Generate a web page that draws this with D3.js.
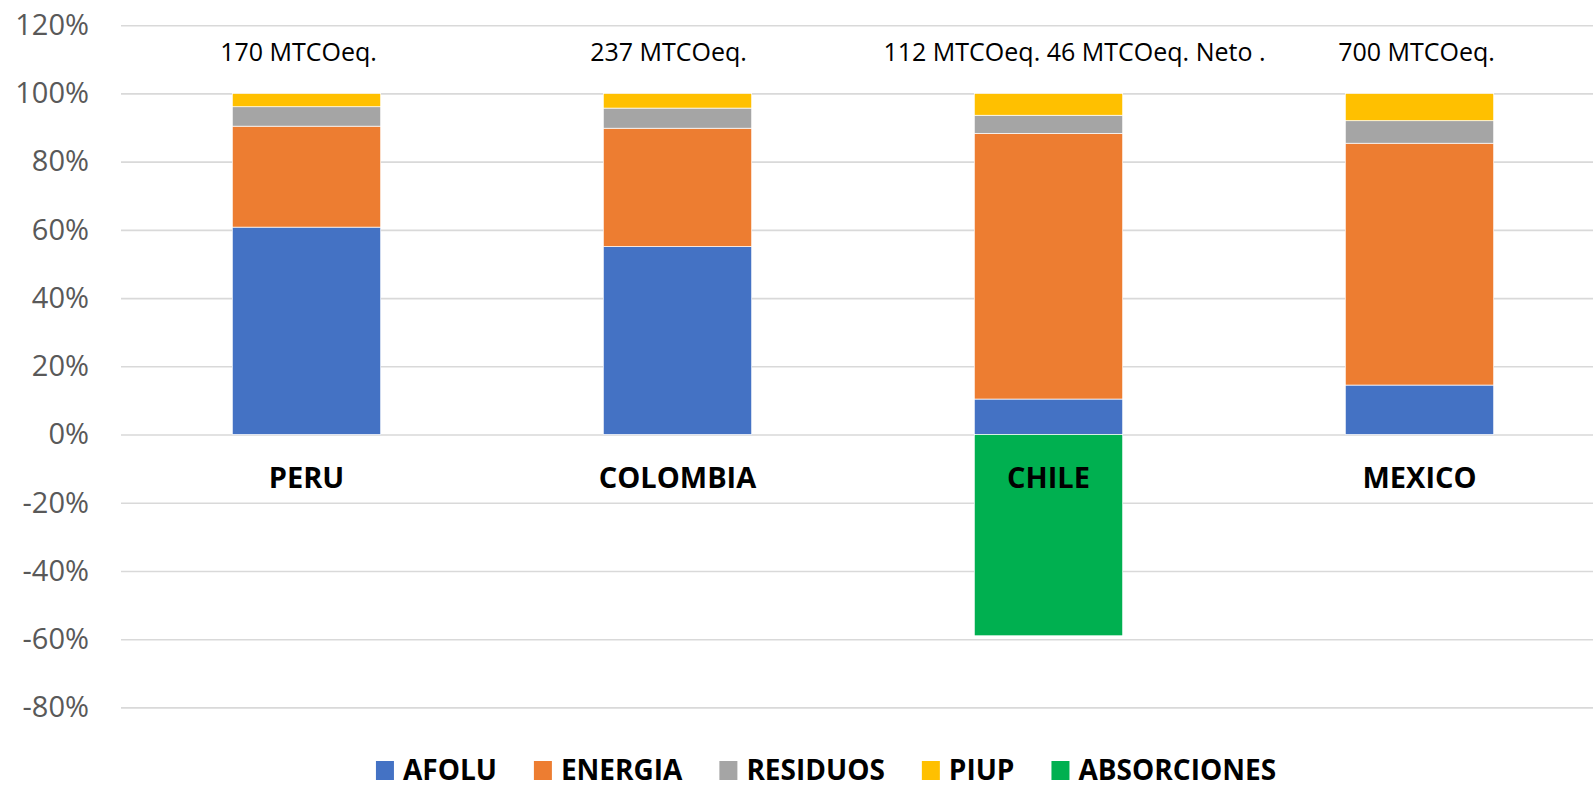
<!DOCTYPE html>
<html>
<head>
<meta charset="utf-8">
<script src="https://cdn.jsdelivr.net/npm/d3@7"></script>
<style>
  body { margin: 0; background: #fff; }
  svg { display: block; font-family: "Open Sans", "Noto Sans", sans-serif; }
  .tick-label { fill: #595959; font-size: 29px; }
  .cat-label { font-weight: bold; font-size: 29px; fill: #000; }
  .total-label { font-size: 25px; fill: #000; }
  .legend-label { font-weight: bold; font-size: 28px; fill: #000; }
</style>
</head>
<body>
<div class="chart"></div>
<script>
// chart values (percent of each country's total)
const countries = ["PERU", "COLOMBIA", "CHILE", "MEXICO"]
const afolu = [60.8, 55.1, 10.4, 14.5]
const energia = [29.6, 34.7, 77.9, 70.9]
const residuos = [5.7, 5.9, 5.3, 6.6]
const piup = [3.9, 4.3, 6.4, 8.0]
const absorciones = [0, 0, -59.0, 0]
const totals = ["170 MTCOeq.", "237 MTCOeq.", "112 MTCOeq. 46 MTCOeq. Neto .", "700 MTCOeq."]
const seriesNames = ["AFOLU", "ENERGIA", "RESIDUOS", "PIUP", "ABSORCIONES"]
const yTicks = [-80, -60, -40, -20, 0, 20, 40, 60, 80, 100, 120]

const seriesValues = [afolu, energia, residuos, piup, absorciones]
const colors = ["#4472C4", "#ED7D31", "#A5A5A5", "#FFC000", "#00B050"]

/**
* Draws the stacked percentage bar chart
*/
function drawChart() {
  const width = 1593
  const height = 788
  const plotLeft = 121
  const plotRight = 1605

  const rows = countries.map((c, i) => {
    const row = { country: c }
    seriesNames.forEach((s, k) => { row[s] = seriesValues[k][i] })
    return row
  })

  const svg = d3.select(".chart").append("svg")
    .attr("width", width)
    .attr("height", height)

  const x = d3.scaleBand()
    .domain(countries)
    .range([plotLeft, plotRight])
    .paddingInner(0.6)
    .paddingOuter(0.3)

  const y = d3.scaleLinear()
    .domain([-80, 120])
    .range([707.4, 25.2])

  const color = d3.scaleOrdinal()
    .domain(seriesNames)
    .range(colors)

  // gridlines + tick labels
  const yAxis = svg.append("g")
    .attr("transform", `translate(${plotLeft},0)`)
    .call(d3.axisLeft(y)
      .tickValues(yTicks)
      .tickSize(-(width - plotLeft))
      .tickPadding(32)
      .tickFormat(d => d + "%"))
  yAxis.attr("font-family", null).attr("font-size", null)
  yAxis.select(".domain").remove()
  yAxis.selectAll(".tick line")
    .attr("stroke", "#d9d9d9")
    .attr("stroke-width", 1.6)
  yAxis.selectAll(".tick text")
    .attr("class", "tick-label")
    .attr("fill", null)

  const stacked = d3.stack()
    .keys(seriesNames)
    .offset(d3.stackOffsetDiverging)(rows)

  svg.append("g")
    .selectAll("g")
    .data(stacked)
    .enter().append("g")
    .attr("fill", d => color(d.key))
    .selectAll("rect")
    .data(d => d.filter(p => p[1] !== p[0]))
    .enter().append("rect")
    .attr("x", d => x(d.data.country))
    .attr("width", x.bandwidth())
    .attr("y", d => y(Math.max(d[0], d[1])))
    .attr("height", d => Math.abs(y(d[0]) - y(d[1])))
    .attr("stroke", "#fff")
    .attr("stroke-width", 0.7)

  // category labels sit just under the zero line
  svg.append("g")
    .selectAll("text")
    .data(countries)
    .enter().append("text")
    .attr("class", "cat-label")
    .attr("text-anchor", "middle")
    .attr("x", d => x(d) + x.bandwidth() / 2)
    .attr("y", y(0) + 53)
    .text(d => d)

  // totals above each bar (text boxes are nudged like the original)
  const totalShift = [-8, -9, 26, -3]
  svg.append("g")
    .selectAll("text")
    .data(totals)
    .enter().append("text")
    .attr("class", "total-label")
    .attr("text-anchor", "middle")
    .attr("x", (d, i) => x(countries[i]) + x.bandwidth() / 2 + totalShift[i])
    .attr("y", 61)
    .text(d => d)

  // legend, centred under the chart
  const legend = svg.append("g")
  const items = legend.selectAll("g")
    .data(seriesNames)
    .enter().append("g")
  items.append("rect")
    .attr("width", 18)
    .attr("height", 19)
    .attr("y", 761)
    .attr("fill", d => color(d))
  items.append("text")
    .attr("class", "legend-label")
    .attr("x", 27)
    .attr("y", 780)
    .text(d => d)

  let offset = 0
  items.each(function() {
    const w = this.querySelector("text").getComputedTextLength()
    d3.select(this).attr("transform", `translate(${offset},0)`)
    offset += 27 + w + 37
  })
  const legendWidth = offset - 37
  legend.attr("transform", `translate(${826 - legendWidth / 2},0)`)
}

drawChart()
</script>
</body>
</html>
